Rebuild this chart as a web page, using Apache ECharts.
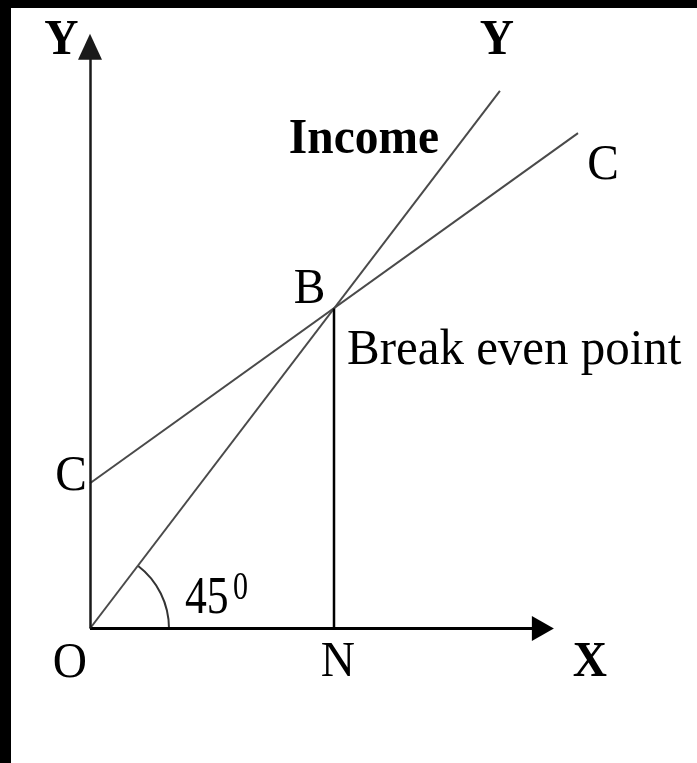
<!DOCTYPE html>
<html>
<head>
<meta charset="utf-8">
<title>Break even point</title>
<script src="https://cdn.jsdelivr.net/npm/echarts@6/dist/echarts.min.js"></script>
<style>
  html, body { margin: 0; padding: 0; background: #fff; }
  #chart { width: 697px; height: 763px; }
</style>
</head>
<body>
<div id="chart"></div>
<script>
// 数据：收入线 OY（45°）、成本线 CC、保本点 B / N
const xEnd = 9.28;   // X 轴箭头位置
const yEnd = 9.09;   // Y 轴箭头位置
const incomeLine = [[0, 0], [8.4, 8.4]];
const costLine = [[0, 2.27], [10, 7.74]];
const breakEven = [5, 5];
const nLine = [[5, 0], [5, 5]];

const serif = "'Liberation Serif', 'Times New Roman', serif";

var chartDom = document.getElementById('chart');
var myChart = echarts.init(chartDom);
var option;

const hiddenAxis = {
  type: 'value',
  min: 0,
  axisLine: { show: false },
  axisTick: { show: false },
  axisLabel: { show: false },
  splitLine: { show: false }
};

option = {
  animation: false,
  backgroundColor: '#fff',
  grid: {
    left: 90,
    top: 20.5,
    width: 488,
    height: 608
  },
  xAxis: Object.assign({ max: 10 }, hiddenAxis),
  yAxis: Object.assign({ max: 9.5 }, hiddenAxis),
  series: [
    {
      name: 'Income',
      type: 'line',
      data: incomeLine,
      symbol: 'none',
      silent: true,
      lineStyle: { color: '#4a4a4a', width: 2 },
      // 两条坐标轴，带箭头
      markLine: {
        silent: true,
        label: { show: false },
        data: [
          [
            { coord: [0, 0], symbol: 'none' },
            { coord: [xEnd, 0], symbol: 'triangle', symbolSize: [25, 22], lineStyle: { color: '#000', width: 3, type: 'solid' } }
          ],
          [
            { coord: [0, 0], symbol: 'none' },
            { coord: [0, yEnd], symbol: 'triangle', symbolSize: [24, 26], lineStyle: { color: '#1a1a1a', width: 2.5, type: 'solid' } }
          ]
        ],
        itemStyle: { color: '#000' }
      }
    },
    {
      name: 'Cost',
      type: 'line',
      data: costLine,
      symbol: 'none',
      silent: true,
      lineStyle: { color: '#4a4a4a', width: 2 }
    },
    {
      name: 'N',
      type: 'line',
      data: nLine,
      symbol: 'none',
      silent: true,
      lineStyle: { color: '#000', width: 2.5 }
    }
  ]
};
option && myChart.setOption(option);

// 文字标注：挂在数据点上，再加像素偏移
const labels = [
  { text: 'Y', at: [0, yEnd], dx: -28.5, dy: -6, bold: true },
  { text: 'Y', at: incomeLine[1], dx: -3, dy: -50, bold: true },
  { text: 'Income', at: incomeLine[1], dx: -136, dy: 48.5, bold: true },
  { text: 'C', at: costLine[1], dx: 25, dy: 32 },
  { text: 'B', at: breakEven, dx: -24.5, dy: -18.5 },
  { text: 'Break even point', at: breakEven, dx: 13, dy: 42.5, align: 'left', sx: 0.96 },
  { text: 'C', at: costLine[0], dx: -19, dy: -7 },
  { text: '45', at: [0, 0], dx: 95, dy: -29.5, align: 'left', size: 52, sx: 0.84 },
  { text: '0', at: [0, 0], dx: 143, dy: -40, align: 'left', size: 40, sx: 0.75 },
  { text: 'O', at: [0, 0], dx: -20, dy: 35 },
  { text: 'N', at: [5, 0], dx: 4, dy: 34.5 },
  { text: 'X', at: [xEnd, 0], dx: 47, dy: 34.5, bold: true }
];

var graphics = [
  // 左边和上边的黑框
  { type: 'rect', shape: { x: 0, y: 0, width: 697, height: 8 }, style: { fill: '#000' } },
  { type: 'rect', shape: { x: 0, y: 0, width: 11, height: 763 }, style: { fill: '#000' } }
];

labels.forEach(function (l) {
  var p = myChart.convertToPixel({ gridIndex: 0 }, l.at);
  graphics.push({
    type: 'text',
    x: p[0] + l.dx,
    y: p[1] + l.dy,
    scaleX: l.sx || 0.93,
    style: {
      text: l.text,
      fill: '#000',
      fontFamily: serif,
      fontSize: l.size || 51,
      fontWeight: l.bold ? 'bold' : 'normal',
      align: l.align || 'center',
      textAlign: l.align || 'center',
      verticalAlign: 'middle',
      textVerticalAlign: 'middle'
    }
  });
});

// 45° 角的圆弧
var o = myChart.convertToPixel({ gridIndex: 0 }, [0, 0]);
var e = myChart.convertToPixel({ gridIndex: 0 }, incomeLine[1]);
var ang = Math.atan2(e[1] - o[1], e[0] - o[0]);
graphics.push({
  type: 'arc',
  shape: { cx: o[0], cy: o[1], r: 79, startAngle: ang, endAngle: 0 },
  style: { stroke: '#333', lineWidth: 2, fill: 'none' }
});

myChart.setOption({ graphic: graphics });
</script>
</body>
</html>
